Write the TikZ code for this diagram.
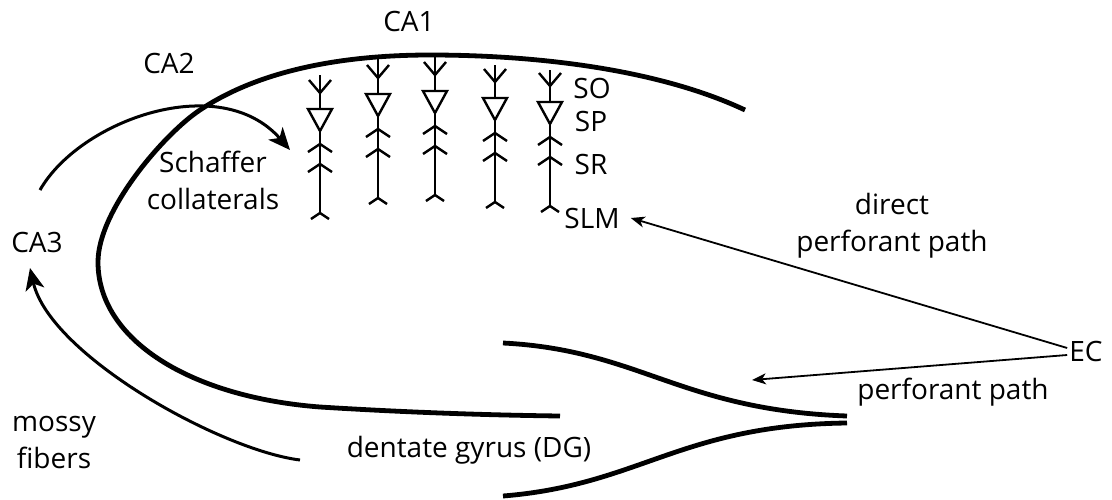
\documentclass[tikz,border=0pt]{standalone}
\usepackage{fontspec}
\setmainfont{Open Sans}
\usetikzlibrary{arrows.meta}

\begin{document}
\begin{tikzpicture}[x=1pt, y=-1pt,
  lbl/.style={font=\fontsize{28}{37}\selectfont, inner sep=2pt, align=center},
  wall/.style={line width=4.8pt},
  nrn/.style={line width=2.4pt, line join=miter},
  fib/.style={line width=3pt, -{Stealth[length=22pt, width=19pt, inset=6pt]}},
  arr/.style={line width=1.8pt, -{Stealth[length=14pt, width=11pt, inset=4pt]}}]
\useasboundingbox (0,0) rectangle (1112,499);

% cell layers
\draw[wall] (745,110) .. controls (660,70) and (540,55) .. (430,55)
  .. controls (340,55) and (258,71) .. (200,110)
  .. controls (165,133) and (98,210) .. (98,262)
  .. controls (98,340) and (190,397) .. (320,407)
  .. controls (400,412) and (480,415) .. (560,416);
\draw[wall] (503,343) .. controls (640,350) and (680,410) .. (847,416);
\draw[wall] (503,496) .. controls (640,485) and (680,425) .. (847,423);

% pyramidal cells: x / dendrite fork / top
\foreach \x/\j/\t in {320/93/75, 378/78/58, 435/75/56, 495/82/65, 550/86/70} {
  \draw[nrn] (\x,\t) -- (\x,\j+16);
  \draw[nrn] (\x-11,\j-13) -- (\x,\j) -- (\x+11,\j-13);
  \draw[nrn] (\x-12,\j+16) -- (\x+12,\j+16) -- (\x,\j+38) -- cycle;
  \draw[nrn] (\x,\j+38) -- (\x,\j+120);
  \draw[nrn] (\x-12,\j+59) -- (\x,\j+51) -- (\x+12,\j+59);
  \draw[nrn] (\x-12,\j+79) -- (\x,\j+71) -- (\x+12,\j+79);
  \draw[nrn] (\x-9,\j+126) -- (\x,\j+120) -- (\x+9,\j+126);
}

% labels
\node[lbl] (ca1) at (409,21) {CA1};
\node[lbl] (ca2) at (169,63) {CA2};
\node[lbl] (ca3) at (37,242) {CA3};
\node[lbl] (so) at (592,88) {SO};
\node[lbl] (sp) at (591,121) {SP};
\node[lbl] (sr) at (591,164) {SR};
\node[lbl] (slm) at (592,218) {SLM};
\node[lbl] (sc) at (213,180) {Schaffer\\collaterals};
\node[lbl] (mf) at (54,442) {mossy\\fibers};
\node[lbl] (dg) at (469,450) {dentate gyrus (DG)};
\node[lbl] (dpp) at (892,226) {direct\\perforant path};
\node[lbl] (pp) at (953,392) {perforant path};
\node[lbl] (ec) at (1086,351) {EC};
\coordinate (sctail) at (40,190);
\coordinate (sctip) at (290,150);
\coordinate (mftail) at (300,460);
\coordinate (mftip) at (30,268);
\coordinate (pptip) at (752,380);

% fibre pathways
\draw[fib] (sctail) .. controls (80,120) and (220,70) .. (sctip);
\draw[fib] (mftail) .. controls (220,450) and (50,355) .. (mftip);
\draw[arr] ([yshift=3]ec.west) -- ([xshift=9]slm.east);
\draw[arr] ([yshift=-4]ec.west) -- (pptip);
\end{tikzpicture}
\end{document}
